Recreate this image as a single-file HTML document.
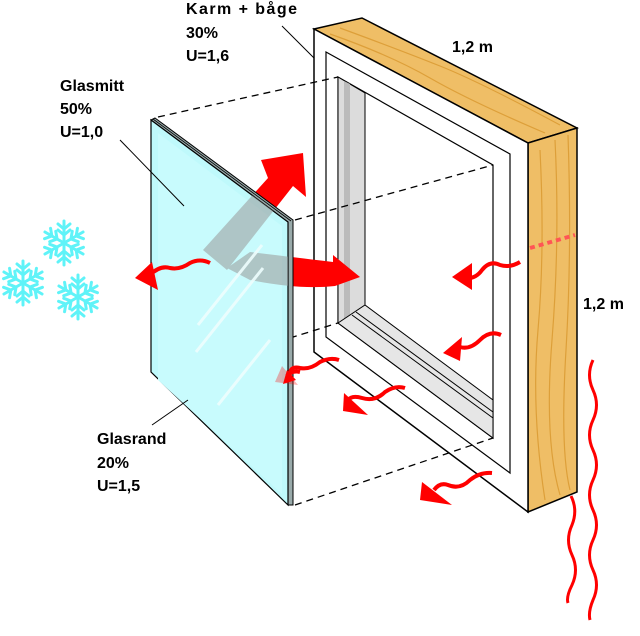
<!DOCTYPE html>
<html><head><meta charset="utf-8"><style>
html,body{margin:0;padding:0;background:#fff}
svg{display:block}
text{font-family:"Liberation Sans",sans-serif;font-weight:bold;font-size:16px;fill:#000}
</style></head><body>
<svg width="640" height="636" viewBox="0 0 640 636" xmlns="http://www.w3.org/2000/svg">
<defs>
<g id="flake" stroke="#5ff3f8" stroke-width="3" stroke-linecap="round" fill="none">
 <g id="arm"><line x1="0" y1="0" x2="0" y2="-22"/><line x1="0" y1="-8" x2="-6" y2="-13"/><line x1="0" y1="-8" x2="6" y2="-13"/><line x1="0" y1="-14" x2="-6" y2="-19"/><line x1="0" y1="-14" x2="6" y2="-19"/></g>
 <use href="#arm" transform="rotate(60)"/><use href="#arm" transform="rotate(120)"/><use href="#arm" transform="rotate(180)"/><use href="#arm" transform="rotate(240)"/><use href="#arm" transform="rotate(300)"/>
</g>
<clipPath id="gl"><polygon points="151,120 288,222 288,505 151,372"/></clipPath>
</defs>

<use href="#flake" x="64" y="243"/>
<use href="#flake" x="23" y="283"/>
<use href="#flake" x="78" y="297"/>

<polygon points="314,29 362,18 577,128 528,143" fill="#efbe66" stroke="#000" stroke-width="1.5"/>
<polygon points="528,143 577,128 577,492 528,512" fill="#efbe66" stroke="#000" stroke-width="1.5"/>
<g stroke="#d9982e" stroke-width="1.2" fill="none" opacity="0.8">
 <path d="M340,28 Q400,50 440,66 T560,125"/><path d="M330,34 Q390,55 430,78 T545,133"/>
 <path d="M540,150 Q545,250 538,330 T545,500"/><path d="M555,140 Q560,240 552,340 T560,495"/><path d="M568,135 Q572,250 566,350 T570,490"/>
</g>
<polygon points="314,29 528,143 528,512 314,352" fill="#fff" stroke="#000" stroke-width="1.5"/>
<polygon points="326,52 510,154 510,473 326,337" fill="#fff" stroke="#000" stroke-width="1.2"/>
<polygon points="338,77 493,165 493,438 338,323" fill="#fff" stroke="#000" stroke-width="1.2"/>
<polygon points="338,77 365,93 365,330 338,323" fill="#dcdcdc" stroke="#000" stroke-width="1"/>
<polygon points="344,81 350,84 350,326 344,324" fill="#bbb"/>
<polygon points="338,323 365,305 493,400 493,438" fill="#e6e6e6" stroke="#000" stroke-width="1"/>
<line x1="352" y1="315" x2="493" y2="418" stroke="#000" stroke-width="1"/>
<line x1="356" y1="312" x2="493" y2="412" stroke="#000" stroke-width="1"/>
<line x1="365" y1="93" x2="365" y2="305" stroke="#000" stroke-width="1"/>

<g stroke="#000" stroke-width="1.3" stroke-dasharray="7,5" fill="none">
 <line x1="158" y1="117" x2="338" y2="77"/>
 <line x1="295" y1="220" x2="493" y2="165"/>
 <line x1="290" y1="338" x2="338" y2="323"/>
 <line x1="295" y1="505" x2="493" y2="438"/>
</g>

<g fill="#f00">
 <polygon points="203,250 268,178 261,160 303,153 306,197 293,186 227,270"/>
 <path d="M227,268 L250,252 Q300,258 333,262 L333,255 L360,277 L335,286 Q300,290 250,280 Z"/>
</g>

<polygon points="155,118 293,220 293,505 288,505 288,222 151,120" fill="#9aa" stroke="#000" stroke-width="1"/>
<line x1="153" y1="119" x2="291" y2="221" stroke="#000" stroke-width="0.8"/>
<polygon points="151,120 288,222 288,505 151,372" fill="#bff9fb" stroke="#000" stroke-width="1.2"/>
<polygon points="158,133 282,226 282,494 158,380" fill="#c8fbfd"/>
<g clip-path="url(#gl)" opacity="0.55">
 <polygon points="203,250 268,178 261,160 303,153 306,197 293,186 227,270" fill="#999"/>
 <path d="M227,268 L250,252 Q300,258 333,262 L333,255 L360,277 L335,286 Q300,290 250,280 Z" fill="#999"/>
</g>
<g stroke="#eefefe" stroke-width="3" opacity="0.9">
 <line x1="198" y1="325" x2="262" y2="245"/><line x1="196" y1="352" x2="263" y2="268"/><line x1="218" y1="405" x2="270" y2="340"/>
</g>
<line x1="293" y1="220" x2="293" y2="505" stroke="#000" stroke-width="1"/>

<g fill="none" stroke="#f00" stroke-width="4">
 <path d="M210,263 Q200,258 190,263 Q180,270 170,268 Q160,265 150,275"/>
 <path d="M520,262 Q510,268 500,265 Q490,260 482,270 Q475,280 463,278"/>
 <path d="M501,335 Q490,330 480,340 Q470,350 460,347"/>
 <path d="M339,360 Q330,357 320,362 Q310,370 300,368 Q292,366 290,372"/>
 <path d="M405,388 Q395,385 385,392 Q375,402 362,398 Q352,395 348,400"/>
 <path d="M492,473 Q480,472 470,480 Q460,490 448,485 Q440,482 434,490"/>
</g>
<g fill="#f00">
 <polygon points="135,278 152,262 158,290"/>
 <polygon points="452,277 472,263 472,290"/>
 <polygon points="443,353 462,337 460,361"/>
 <polygon points="343,411 344,393 368,415"/>
 <polygon points="420,500 422,482 452,505"/>
</g>
<polygon points="275,382 282,366 298,385" fill="#f00" opacity="0.3"/>
<path d="M300,372 Q292,370 287,376" stroke="#f00" stroke-width="4" fill="none"/>
<polygon points="287,370 296,380 283,384" fill="#f00"/>
<line x1="530" y1="248" x2="575" y2="235" stroke="#f55" stroke-width="4" stroke-dasharray="5,4"/>
<path d="M571,496 Q578,510 572,525 Q565,540 572,555 Q579,570 572,585 Q566,597 568,603" fill="none" stroke="#f00" stroke-width="3"/>
<path d="M593,360 Q586,375 593,390 Q600,405 593,420 Q586,435 593,450 Q600,465 593,480 Q586,495 593,510 Q600,525 593,540 Q586,555 593,570 Q600,585 593,600 Q588,612 590,620" fill="none" stroke="#f00" stroke-width="3"/>

<g stroke="#000" stroke-width="1">
 <line x1="282" y1="26" x2="314" y2="58"/>
 <line x1="120" y1="140" x2="184" y2="206"/>
 <line x1="152" y1="425" x2="188" y2="400"/>
</g>

<text x="186" y="14" textLength="111">Karm + båge</text>
<text x="186" y="38">30%</text>
<text x="186" y="61">U=1,6</text>
<text x="60" y="91">Glasmitt</text>
<text x="60" y="114">50%</text>
<text x="60" y="137">U=1,0</text>
<text x="97" y="444">Glasrand</text>
<text x="97" y="468">20%</text>
<text x="97" y="491">U=1,5</text>
<text x="452" y="52">1,2 m</text>
<text x="583" y="309">1,2 m</text>
</svg>
</body></html>
